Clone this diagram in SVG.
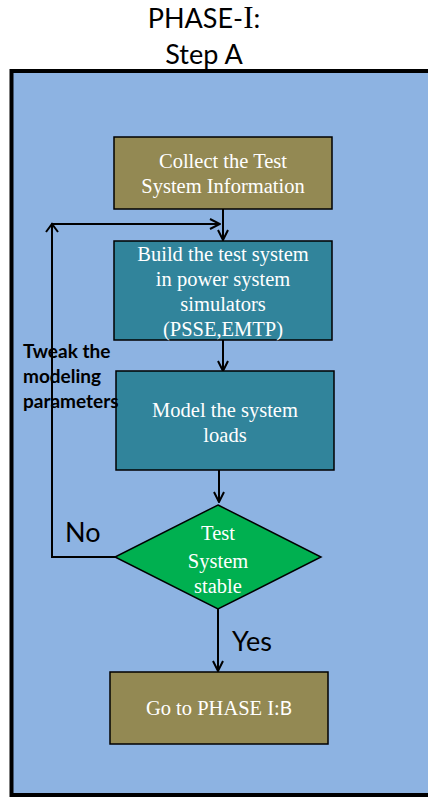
<svg xmlns="http://www.w3.org/2000/svg" width="428" height="797" viewBox="0 0 428 797">
  <defs>
    <marker id="arrow" viewBox="0 0 12 12" refX="11" refY="6" markerWidth="12" markerHeight="12" markerUnits="userSpaceOnUse" orient="auto">
      <path d="M1,1 L11,6 L1,11" fill="none" stroke="#000" stroke-width="2"/>
    </marker>
  </defs>
  <style>
    .box { stroke: #000; stroke-width: 1.5; }
    .olive { fill: #938953; }
    .teal { fill: #31849B; }
    .serif { font-family: "Liberation Serif", "Times New Roman", serif; fill: #fff; font-size: 20.5px; text-anchor: middle; }
    .sans { font-family: "Lato", "Open Sans", sans-serif; fill: #000; }
    .conn { fill: none; stroke: #000; stroke-width: 2; }
  </style>

  <rect width="428" height="797" fill="#fff"/>

  <!-- heading -->
  <g id="title" class="sans" font-size="27" text-anchor="middle">
    <text x="204" y="28">PHASE-<tspan font-family="Liberation Serif, serif" font-size="31">I</tspan>:</text>
    <text x="204" y="64">Step A</text>
  </g>

  <!-- frame -->
  <rect id="frame" x="11.5" y="71" width="430" height="724" fill="#8DB3E2" stroke="#000" stroke-width="4"/>

  <!-- connectors -->
  <g id="connectors">
    <line class="conn" x1="223" y1="209" x2="223" y2="240" marker-end="url(#arrow)"/>
    <path class="conn" d="M115,557 H52 V224 H220" marker-end="url(#arrow)"/>
    <path class="conn" d="M46,232 L52,224 L58,232"/>
    <line class="conn" x1="223" y1="340" x2="223" y2="371" marker-end="url(#arrow)"/>
    <line class="conn" x1="219" y1="470" x2="219" y2="502" marker-end="url(#arrow)"/>
    <line class="conn" x1="218" y1="608" x2="218" y2="671" marker-end="url(#arrow)"/>
  </g>

  <g id="collect">
    <rect class="box olive" x="114" y="137" width="218" height="72"/>
    <text class="serif" x="223" y="168">Collect the Test</text>
    <text class="serif" x="223" y="193">System Information</text>
  </g>

  <g id="build">
    <rect class="box teal" x="114" y="241" width="218" height="99"/>
    <text class="serif" x="223" y="261">Build the test system</text>
    <text class="serif" x="223" y="286">in power system</text>
    <text class="serif" x="223" y="311">simulators</text>
    <text class="serif" x="223" y="336">(PSSE,EMTP)</text>
  </g>

  <g id="model">
    <rect class="box teal" x="116" y="371" width="218" height="99"/>
    <text class="serif" x="225" y="417">Model the system</text>
    <text class="serif" x="225" y="442">loads</text>
  </g>

  <g id="decision">
    <polygon points="218,505 321,557 218,609 115,557" fill="#00B050" stroke="#000" stroke-width="1.5"/>
    <text class="serif" x="218" y="540" font-size="23">Test</text>
    <text class="serif" x="218" y="568" font-size="23">System</text>
    <text class="serif" x="218" y="593" font-size="23">stable</text>
  </g>

  <g id="goto">
    <rect class="box olive" x="110" y="672" width="218" height="72"/>
    <text class="serif" x="219" y="715">Go to PHASE I:<tspan font-family="Lato, sans-serif" font-size="19">B</tspan></text>
  </g>

  <!-- edge labels -->
  <g id="labels" class="sans">
    <text x="65" y="542" font-size="27">No</text>
    <text x="232" y="651" font-size="27">Yes</text>
    <g font-size="19" font-weight="bold">
      <text x="23" y="358">Tweak the</text>
      <text x="23" y="383">modeling</text>
      <text x="23" y="408">parameters</text>
    </g>
  </g>
</svg>
